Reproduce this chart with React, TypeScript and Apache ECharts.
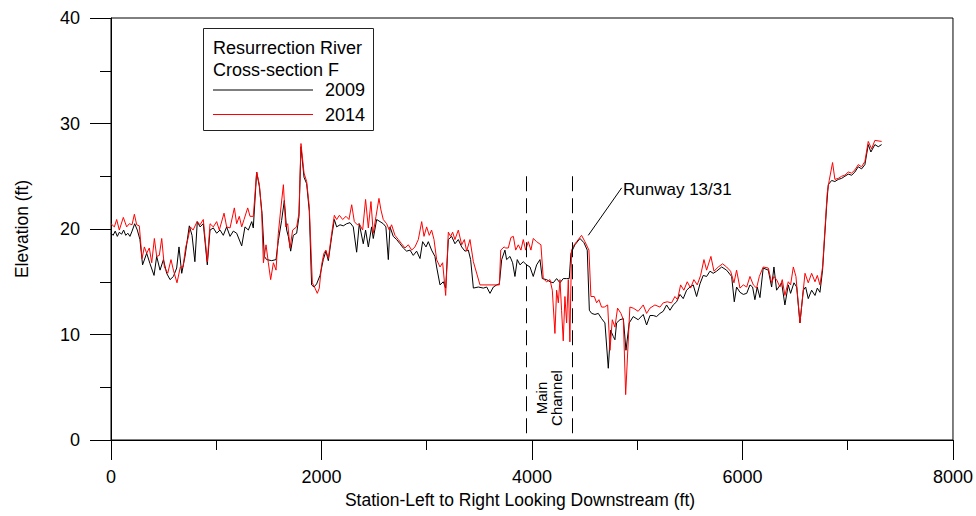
import React, { useEffect, useRef } from "react";
import * as echarts from "echarts";

// ---- Data (station ft, elevation ft) ----
const station2009 = [0,20,40,60,80,100,120,140,160,180,200,225,250,275,300,339,371,409,434,466,498,529,561,593,624,646,672,703,744,770,797,820,846,877,915,941,972,1004,1036,1067,1099,1131,1162,1194,1242,1273,1305,1337,1352,1384,1410,1435,1457,1479,1527,1568,1590,1621,1647,1669,1685,1707,1732,1764,1786,1805,1834,1859,1884,1906,1929,1954,1986,2017,2042,2065,2097,2122,2144,2176,2207,2239,2271,2302,2334,2359,2397,2419,2445,2476,2492,2524,2556,2587,2612,2635,2651,2682,2714,2746,2777,2809,2841,2872,2904,2936,2961,2993,3015,3046,3078,3094,3126,3157,3180,3205,3237,3268,3300,3332,3363,3395,3417,3443,3490,3538,3570,3601,3633,3665,3690,3712,3743,3759,3791,3816,3838,3860,3886,3917,3949,3981,4012,4044,4076,4098,4139,4171,4202,4234,4266,4297,4329,4354,4370,4408,4456,4494,4525,4545,4567,4598,4630,4662,4693,4725,4747,4773,4788,4804,4836,4868,4893,4924,4962,5009,5057,5089,5121,5152,5184,5216,5247,5279,5311,5342,5374,5406,5437,5469,5501,5532,5564,5596,5627,5659,5691,5722,5754,5802,5849,5897,5922,5944,5976,6008,6040,6071,6096,6118,6140,6166,6197,6245,6277,6299,6324,6372,6403,6435,6457,6489,6515,6546,6578,6600,6625,6657,6689,6711,6736,6761,6783,6799,6815,6847,6878,6910,6942,6973,7005,7037,7068,7100,7132,7163,7195,7220,7258,7290,7322];
const elev2009 = [19.6,19.4,19.8,19.3,19.7,19.5,19.9,19.4,19.6,19.3,19.8,20.5,19.9,19.0,16.6,17.7,16.7,15.6,17.4,16.1,17.1,15.8,15.2,15.5,16.3,18.3,15.8,17.4,20.3,19.4,16.9,20.7,20.2,20.5,16.6,19.9,20.1,19.6,19.9,19.4,20.2,19.3,19.8,19.6,18.4,20.2,19.9,20.7,20.1,25.4,24.0,21.5,17.4,17.1,17.0,17.1,18.9,20.8,22.7,19.9,19.3,17.9,19.4,19.6,21.2,27.8,24.9,24.3,21.7,14.7,14.5,14.8,15.6,17.1,17.9,17.0,19.3,20.9,20.2,20.4,20.3,20.5,20.6,20.2,17.8,20.5,18.6,19.9,18.3,20.2,19.1,20.9,20.7,20.5,20.2,17.1,20.2,19.3,19.0,18.6,18.2,17.9,18.0,17.5,17.9,17.2,18.8,18.3,18.8,18.0,17.4,16.4,14.7,15.0,14.4,19.0,19.3,18.6,19.0,18.3,17.9,18.0,17.1,14.4,14.5,14.4,14.5,13.9,14.5,14.7,14.8,17.1,18.0,17.1,17.4,16.8,15.5,17.1,16.6,16.9,16.6,16.4,15.5,16.6,17.1,15.3,15.2,15.0,14.9,15.3,14.9,15.3,15.3,15.3,17.7,18.5,19.1,18.7,18.0,12.3,12.0,11.9,12.0,11.5,11.1,6.8,10.4,9.8,9.5,11.1,11.4,11.5,8.5,11.1,11.7,11.4,11.9,10.9,11.8,11.8,11.7,12.0,12.2,12.8,12.3,12.8,13.1,13.8,13.4,14.2,14.5,14.7,13.6,14.8,15.6,15.5,16.0,15.8,16.0,16.4,16.1,15.5,13.1,14.5,14.0,13.8,13.9,14.7,14.5,13.3,14.5,13.5,16.3,16.1,14.5,16.4,14.2,14.9,12.8,14.7,13.9,14.9,14.5,11.1,14.2,14.5,13.4,14.2,13.7,14.4,14.0,16.1,19.6,22.1,24.2,24.6,24.5,24.7,24.8,25.0,25.2,25.1,25.4,25.9,25.7,26.1,28.0,27.3,28.0,27.8,28.0];

const station2014 = [0,32,54,79,117,149,174,200,222,244,269,295,317,339,364,387,412,434,459,482,507,539,570,593,627,659,684,710,732,754,780,818,846,877,915,941,972,1004,1029,1074,1099,1131,1172,1194,1219,1242,1264,1299,1321,1352,1384,1410,1432,1448,1473,1495,1517,1543,1568,1590,1612,1638,1660,1679,1701,1726,1764,1786,1805,1834,1859,1884,1913,1938,1960,1979,2001,2023,2042,2065,2097,2122,2144,2170,2201,2233,2261,2287,2312,2340,2359,2391,2419,2445,2470,2492,2518,2546,2565,2587,2619,2644,2666,2698,2730,2761,2793,2825,2857,2888,2920,2952,2974,2999,3024,3046,3069,3094,3126,3151,3180,3205,3227,3246,3268,3300,3332,3357,3379,3411,3443,3506,3690,3703,3735,3750,3775,3800,3823,3845,3870,3895,3917,3940,3965,3990,4012,4044,4085,4107,4139,4171,4193,4218,4234,4250,4266,4281,4297,4313,4329,4345,4360,4376,4401,4424,4471,4503,4541,4560,4592,4614,4636,4661,4687,4719,4741,4763,4788,4813,4845,4868,4890,4930,4962,5009,5057,5089,5121,5168,5216,5247,5285,5326,5358,5383,5412,5443,5475,5507,5538,5570,5602,5634,5659,5700,5729,5770,5811,5849,5887,5919,5944,5976,6008,6040,6071,6103,6134,6160,6197,6245,6277,6299,6324,6356,6378,6403,6435,6457,6483,6508,6546,6594,6625,6657,6689,6711,6736,6761,6783,6805,6824,6856,6878,6910,6942,6973,7005,7037,7068,7100,7132,7163,7195,7227,7258,7322];
const elev2014 = [20.5,20.2,20.9,19.9,21.1,20.2,20.5,20.4,21.4,20.4,20.3,17.2,18.3,17.7,18.2,16.8,19.1,17.4,17.5,19.1,16.4,15.8,17.1,16.1,14.9,16.4,16.4,18.3,19.1,20.2,19.9,20.7,20.4,20.9,16.9,20.5,20.2,20.7,19.9,21.5,20.2,20.1,22.0,20.5,21.2,20.2,20.9,22.0,21.2,21.2,25.4,24.2,21.5,16.8,18.5,16.8,15.2,16.8,16.1,19.6,21.8,24.2,20.2,20.5,18.2,19.9,20.2,21.5,28.1,25.3,24.5,22.1,14.9,14.4,13.9,14.4,16.6,17.7,18.0,17.2,19.6,21.3,20.9,21.3,20.9,21.2,20.9,22.3,20.7,20.4,20.5,19.9,22.8,20.1,22.6,19.6,21.2,22.9,21.8,20.9,20.5,19.9,20.4,19.4,19.0,18.6,18.2,18.5,18.0,18.3,19.0,20.7,19.3,20.2,19.4,19.9,19.0,17.1,16.4,16.8,13.7,19.7,19.3,19.7,19.0,19.9,18.5,19.0,17.9,19.0,16.9,14.7,14.7,18.0,18.3,18.2,18.2,19.2,19.3,18.0,18.5,18.0,19.0,18.0,18.8,18.0,19.1,18.8,18.5,15.3,15.0,15.2,14.2,10.1,14.2,13.0,15.2,12.3,9.4,13.6,11.1,15.2,9.3,18.0,18.5,18.8,19.4,18.8,18.0,13.6,13.6,13.0,13.3,12.6,12.6,12.8,8.5,11.4,10.7,12.5,12.0,11.4,4.3,12.6,12.5,12.2,12.8,12.0,12.5,12.8,12.6,13.0,13.1,13.0,13.6,13.3,14.7,14.2,15.0,14.4,15.2,14.7,15.6,17.1,16.1,17.4,16.0,16.4,16.7,16.4,16.0,14.9,16.1,14.4,14.7,14.5,15.5,14.7,14.4,15.5,16.4,16.3,14.9,15.5,15.2,14.5,15.2,13.7,15.0,14.7,16.4,15.5,11.1,15.8,14.9,15.8,15.0,15.6,14.7,16.4,19.9,23.4,24.6,26.3,24.7,24.8,25.0,25.1,25.4,25.3,25.6,26.1,25.9,26.4,28.3,27.6,28.4,28.3];

const xTicks = { min: 0, max: 8000, interval: 2000 };
const yTicks = { min: 0, max: 40, interval: 10 };
const channelLines = [3950, 4380];
const channelTop = 25;
const runwayLeader = [[4535, 19.4], [4852, 23.9]];

const FONT = "Liberation Sans, Arial, sans-serif";

export default function App() {
  const ref = useRef<HTMLDivElement>(null);
  useEffect(() => {
    if (!ref.current) return;
    const chart = echarts.init(ref.current, null, { renderer: "svg" });
    const d2009 = station2009.map((s, i) => [s, elev2009[i]]);
    const d2014 = station2014.map((s, i) => [s, elev2014[i]]);
    chart.setOption({
      animation: false,
      backgroundColor: "#fff",
      textStyle: { fontFamily: FONT },
      grid: {
        left: 111, right: 23, top: 18, bottom: 76,
        show: true, borderColor: "#000", borderWidth: 1,
      },
      legend: {
        orient: "vertical",
        left: 213, top: 81, padding: 0,
        icon: "rect",
        itemWidth: 100, itemHeight: 1, itemGap: 6.5,
        textStyle: { fontSize: 18, color: "#000", fontFamily: FONT, padding: [0, 0, 0, 7] },
        data: ["2009", "2014"],
      },
      xAxis: {
        type: "value", ...xTicks,
        axisLine: { show: true, lineStyle: { color: "#000", width: 1 } },
        axisTick: { show: true, inside: false, length: 20, lineStyle: { color: "#000" } },
        minorTick: { show: true, splitNumber: 2, length: 10, lineStyle: { color: "#000" } },
        splitLine: { show: false },
        axisLabel: {
          fontSize: 18, color: "#000", margin: 28, fontFamily: FONT,
          formatter: (v: number) => String(v),
        },
      },
      yAxis: {
        type: "value", ...yTicks,
        axisLine: { show: true, lineStyle: { color: "#000", width: 1 } },
        axisTick: { show: true, inside: false, length: 21, lineStyle: { color: "#000" } },
        minorTick: { show: true, splitNumber: 2, length: 11, lineStyle: { color: "#000" } },
        splitLine: { show: false },
        axisLabel: {
          fontSize: 18, color: "#000", margin: 31, fontFamily: FONT,
          formatter: (v: number) => String(v),
        },
      },
      series: [
        {
          name: "2009", type: "line", data: d2009, symbol: "none",
          lineStyle: { color: "#000", width: 1 }, itemStyle: { color: "#000" },
          markLine: {
            silent: true, symbol: ["none", "none"], label: { show: false },
            data: [
              ...channelLines.map((x) => [
                { coord: [x, channelTop], lineStyle: { type: [15, 7], color: "#000", width: 1 } },
                { coord: [x, 0] },
              ]),
              [
                { coord: runwayLeader[0], lineStyle: { type: "solid", color: "#000", width: 1 } },
                { coord: runwayLeader[1] },
              ],
            ],
          },
        },
        {
          name: "2014", type: "line", data: d2014, symbol: "none",
          lineStyle: { color: "#ff0000", width: 1 }, itemStyle: { color: "#ff0000" },
        },
      ],
      graphic: [
        {
          type: "rect", shape: { x: 203.5, y: 28.5, width: 170, height: 102 },
          style: { fill: "#fff", stroke: "#222", lineWidth: 1 }, z: 0,
        },
        {
          type: "text", x: 213, y: 37,
          style: {
            text: "Resurrection River\nCross-section F", fontSize: 18, lineHeight: 22,
            fill: "#000", fontFamily: FONT, verticalAlign: "top", align: "left",
          },
        },
        {
          type: "text", x: 22, y: 229, rotation: Math.PI / 2,
          style: {
            text: "Elevation (ft)", fontSize: 17.5, fill: "#000", fontFamily: FONT,
            align: "center", verticalAlign: "middle",
          },
        },
        {
          type: "text", x: 520, y: 500,
          style: {
            text: "Station-Left to Right Looking Downstream (ft)", fontSize: 17.5,
            fill: "#000", fontFamily: FONT, align: "center", verticalAlign: "middle",
          },
        },
        {
          type: "text", x: 623, y: 189,
          style: {
            text: "Runway 13/31", fontSize: 17, fill: "#000", fontFamily: FONT,
            align: "left", verticalAlign: "middle",
          },
        },
        {
          type: "text", x: 549, y: 398, rotation: Math.PI / 2,
          style: {
            text: "Main\nChannel", fontSize: 15, lineHeight: 15, fill: "#000",
            fontFamily: FONT, align: "center", verticalAlign: "middle",
          },
        },
      ],
    });
    return () => chart.dispose();
  }, []);
  return (
    <div
      ref={ref}
      style={{ position: "fixed", left: 0, top: 0, width: 976, height: 516 }}
    />
  );
}
